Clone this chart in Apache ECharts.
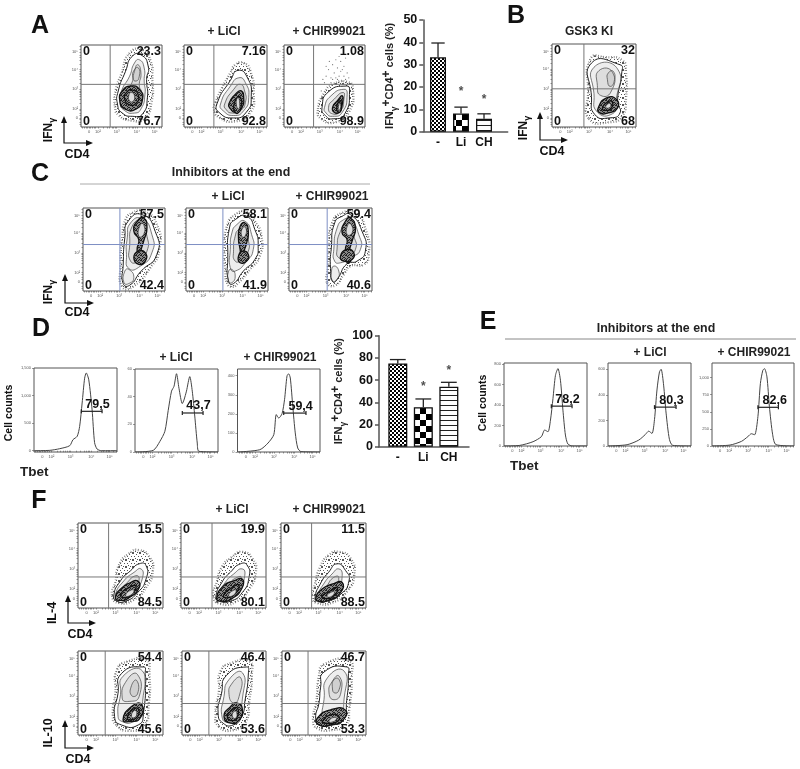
<!DOCTYPE html>
<html><head><meta charset="utf-8">
<style>html,body{margin:0;padding:0;background:#fff}#c{width:800px;height:769px;filter:blur(0.35px)}</style>
<script src="https://cdn.jsdelivr.net/npm/echarts@6/dist/echarts.min.js"></script>
</head><body><div id="c"></div>
<script>
// ---------- bar data ----------
const barCategories = ['-', 'Li', 'CH'];
const barAValues = [33.3, 8.2, 5.8];
const barAErrTop = [39.7, 11, 8];
const barAStars = [null, 19, 15.4];
const barDValues = [75, 35.5, 54];
const barDErrTop = [78.5, 43, 58];
const barDStars = [null, 55.5, 70.5];

// ---------- flow cytometry axis ticks (percent of plot box) ----------
const flowMajorX = [10, 21, 44, 69, 91];
const flowMajorY = [11, 22, 46, 70, 91];
const flowTickLabels = ['0', '10²', '10³', '10⁴', '10⁵'];
const flowMinorX = [2,4,6,8,10,12,14,16,18,21,28,32,35,38,40,42,44,51,56,60,63,65,67,69,76,81,84,87,89,91,96,99];
const flowMinorY = [3,6,9,11,14,17,20,22,29,34,37,40,42,44,46,53,58,62,64,66,68,70,77,82,85,88,91,95,98];

// ---------- quadrant gates [vertical, horizontal] and numbers ----------
const quadA1 = [36, 52], quadA2 = [36, 52], quadA3 = [36.5, 52];
const quadB = [38, 46];
const quadC1 = [45, 56], quadC2 = [45, 56], quadC3 = [46, 56];
const quadF1 = [36, 36.5], quadF2 = [36.5, 36.5], quadF3 = [36, 36.5];
const quadF4 = [32, 37.5], quadF5 = [32, 37.5], quadF6 = [31, 37.5];

const numA1 = ['0', '23.3', '0', '76.7'], numA2 = ['0', '7.16', '0', '92.8'], numA3 = ['0', '1.08', '0', '98.9'];
const numB = ['0', '32', '0', '68'];
const numC1 = ['0', '57.5', '0', '42.4'], numC2 = ['0', '58.1', '0', '41.9'], numC3 = ['0', '59.4', '0', '40.6'];
const numF1 = ['0', '15.5', '0', '84.5'], numF2 = ['0', '19.9', '0', '80.1'], numF3 = ['0', '11.5', '0', '88.5'];
const numF4 = ['0', '54.4', '0', '45.6'], numF5 = ['0', '46.4', '0', '53.6'], numF6 = ['0', '46.7', '0', '53.3'];

// ---------- contour outlines ----------
const haloA1 = [[42,25],[47,14],[62,8],[78,10],[87,30],[88,60],[86,80],[76,94],[60,90],[50,65],[43,45]];
const ringsA1 = [[[45,28],[51,17],[64,13],[76,16],[82,36],[81,58],[83,74],[74,88],[63,86],[55,68],[46,44]],
  [[48,30],[54,20],[66,17],[74,22],[79,40],[78,56],[78,72],[72,82],[66,78],[60,62],[50,44]],
  [[52,32],[58,23],[68,22],[73,30],[75,42],[72,50],[74,66],[70,76],[66,68],[62,52],[54,42]],
  [[64,60],[66,70],[71,72],[72,62],[68,56]]];
const darkA1 = [[[48,32],[54,22],[68,22],[76,34],[72,46],[62,50],[51,44]],[[54,34],[60,27],[68,29],[71,38],[64,45],[56,42]]];
const whiteA1 = [[[60,32],[64,31],[66,38],[62,42],[59,38]]];

const haloA2 = [[38,30],[46,48],[56,66],[62,76],[72,78],[80,68],[84,40],[80,18],[62,7],[42,12],[36,22]];
const ringsA2 = [[[40,29],[56,57],[65,69],[76,61],[81,37],[75,18],[60,11],[42,18]],
  [[44,28],[56,50],[66,60],[74,54],[78,36],[72,20],[60,14],[47,20]],
  [[49,28],[60,46],[68,52],[73,44],[74,30],[68,20],[58,17],[51,21]]];
const darkA2 = [[[54,28],[62,40],[69,44],[72,34],[70,24],[62,18],[56,22]],[[60,26],[64,36],[68,36],[69,26],[65,17],[61,19]]];
const whiteA2 = [[[63,28],[65,36],[67,30],[66,22]]];

const haloA3 = [[42,22],[50,42],[60,52],[78,55],[85,46],[80,18],[64,6],[46,10]];
const ringsA3 = [[[47,24],[55,43],[77,50],[81,45],[75,16],[61,10],[51,14]],
  [[50,24],[58,38],[74,46],[78,40],[72,18],[60,13],[52,17]],
  [[55,24],[62,34],[73,42],[74,34],[70,20],[60,16]]];
const darkA3 = [[[60,24],[66,32],[72,38],[72,28],[68,18],[62,18]],[[65,22],[69,32],[71,26],[69,18]]];
const whiteA3 = [[[67,23],[69,29],[70,25],[68,20]]];
const dotsA3 = [[48,58],[52,62],[55,70],[58,60],[60,76],[62,66],[64,82],[66,58],[66,72],[68,62],[70,80],[70,68],[72,56],[74,74],[74,62],[76,84],[76,58],[78,66],[52,74],[56,80],[60,58],[64,60],[68,86],[72,70],[80,60],[58,54],[50,54],[82,52],[46,44],[84,40]];

const haloB = [[44,10],[70,6],[84,14],[88,34],[88,66],[84,80],[64,84],[46,82],[43,40]];
const ringsB = [[[47,37],[47,77],[81,75],[83,65],[78,31],[81,17],[69,11],[51,15]],
  [[50,40],[50,72],[78,70],[76,30],[72,16],[54,18]],
  [[54,50],[56,68],[72,66],[70,42],[58,38]],
  [[66,57],[67,65],[73,67],[74,55],[69,49]]];
const darkB = [[[55,23],[65,35],[77,33],[78,23],[67,17],[57,17]],[[60,22],[66,30],[72,30],[70,22],[64,20]]];
const whiteB = [[[64,24],[67,28],[70,27],[68,23]]];

const haloC1 = [[60,94],[74,96],[90,80],[93,50],[82,28],[62,6],[48,5],[46,32],[48,66],[52,86]];
const ringsC1 = [[[55,84],[72,92],[88,72],[90,44],[70,23],[57,7],[49,9],[49,31],[51,64]],
  [[58,82],[72,87],[84,68],[84,46],[70,30],[56,27],[53,44],[54,64]],
  [[60,78],[70,84],[78,66],[78,48],[68,36],[58,36],[57,56]],
  [[50,10],[56,9],[62,16],[56,26],[51,24]]];
const darkC1 = [[[62,72],[66,84],[74,88],[78,76],[74,60],[70,44],[72,36],[68,34],[66,50],[68,62]],[[62,40],[68,48],[76,46],[76,36],[68,32]]];
const whiteC1 = [[[68,66],[70,80],[74,80],[74,68]]];

const haloC2 = [[50,10],[56,5],[64,10],[78,26],[90,42],[92,66],[84,84],[74,95],[60,92],[50,78],[47,50],[48,24]];
const ringsC2 = [[[53,76],[60,86],[74,90],[84,74],[88,54],[84,38],[70,24],[58,9],[52,11],[51,40]],
  [[56,70],[62,80],[72,84],[80,68],[82,50],[74,36],[60,24],[54,28],[54,50]],
  [[60,66],[64,74],[72,78],[76,62],[76,48],[68,38],[60,36],[58,50]],
  [[52,12],[56,10],[60,18],[56,26],[52,24]]];
const darkC2 = [[[64,64],[66,78],[72,82],[76,72],[74,58],[70,44],[72,38],[68,36],[66,50]],[[64,42],[70,48],[76,44],[74,36],[66,34]]];
const whiteC2 = [[[68,66],[69,76],[73,76],[72,66]]];

const haloC3 = [[46,10],[56,7],[66,20],[74,30],[90,32],[96,44],[93,72],[80,94],[64,94],[52,82],[48,52],[47,28]];
const ringsC3 = [[[51,52],[55,82],[64,90],[74,92],[88,72],[92,48],[82,36],[70,33],[58,14],[53,11],[50,27]],
  [[54,50],[58,76],[66,86],[74,86],[84,68],[86,50],[74,40],[62,34],[55,36]],
  [[58,52],[62,72],[70,80],[78,66],[80,50],[70,42],[60,40]],
  [[52,12],[58,14],[60,24],[54,30],[51,22]]];
const darkC3 = [[[64,70],[68,84],[74,88],[80,76],[76,60],[72,44],[74,36],[70,34],[68,50],[70,62]],[[62,42],[70,50],[78,46],[76,38],[66,36]]];
const whiteC3 = [[[70,68],[71,80],[75,80],[76,70]]];

const haloF1 = [[40,15],[44,30],[48,50],[60,64],[72,68],[84,60],[88,44],[80,24],[66,10],[48,6]];
const ringsF1 = [[[42,14],[50,32],[62,44],[72,52],[80,50],[80,34],[70,18],[56,8],[46,8]],
  [[44,16],[54,32],[66,42],[74,46],[76,36],[68,22],[56,12],[47,11]],
  [[48,17],[58,30],[68,38],[72,34],[66,24],[56,15]]];
const darkF1 = [[[44,13],[52,24],[62,30],[70,32],[72,24],[60,12],[48,9]],[[50,16],[60,24],[68,26],[64,17],[54,12]]];
const whiteF1 = [[[56,15],[62,21],[66,20],[60,14]]];

const haloF2 = [[38,14],[42,30],[48,48],[60,60],[72,66],[84,58],[88,42],[80,22],[66,8],[46,5]];
const ringsF2 = [[[41,13],[48,30],[58,42],[70,52],[78,50],[80,36],[72,18],[58,8],[45,8]],
  [[44,15],[52,30],[62,40],[72,46],[75,38],[68,22],[56,12],[47,11]],
  [[48,16],[56,28],[66,36],[71,36],[66,24],[56,15]]];
const darkF2 = [[[42,12],[50,26],[62,32],[72,34],[72,24],[60,11],[47,8]],[[50,15],[60,24],[68,27],[64,17],[54,12]]];
const whiteF2 = [[[56,15],[62,21],[65,20],[60,14]]];

const haloF3 = [[37,14],[40,28],[46,48],[56,62],[68,66],[82,58],[86,38],[78,20],[62,7],[42,6]];
const ringsF3 = [[[40,12],[46,28],[56,42],[66,52],[76,44],[80,32],[70,16],[54,8],[43,8]],
  [[43,14],[50,28],[60,40],[68,46],[72,38],[66,22],[52,12],[45,10]],
  [[47,15],[54,26],[62,36],[68,36],[62,22],[52,14]]];
const darkF3 = [[[41,12],[48,22],[60,28],[72,30],[70,18],[56,9],[44,8]],[[48,14],[58,20],[66,24],[62,14],[52,11]]];
const whiteF3 = [[[54,14],[60,19],[63,18],[58,13]]];

const haloF4 = [[45,12],[41,24],[44,50],[46,78],[60,88],[80,90],[84,72],[83,35],[78,12],[60,5]];
const ringsF4 = [[[51,12],[43,22],[47,49],[51,73],[77,81],[79,73],[77,26],[71,12]],
  [[52,16],[47,24],[50,48],[53,70],[76,76],[76,40],[72,24],[66,16]],
  [[52,44],[58,66],[70,72],[72,46],[60,40]],
  [[63,47],[63,59],[69,65],[70,49]]];
const darkF4 = [[[53,18],[63,34],[75,36],[73,20],[61,16]],[[58,20],[64,30],[71,31],[70,22],[62,18]]];
const whiteF4 = [[[63,22],[66,29],[69,27],[67,21]]];

const haloF5 = [[44,10],[40,26],[44,52],[46,76],[60,86],[80,88],[83,70],[80,40],[76,16],[62,6]];
const ringsF5 = [[[49,14],[43,26],[47,49],[53,71],[77,81],[79,73],[75,41],[71,22],[61,12]],
  [[48,20],[50,46],[56,66],[72,74],[72,44],[66,24],[56,16]],
  [[56,48],[60,62],[70,68],[68,46],[62,38]]];
const darkF5 = [[[50,22],[58,34],[66,38],[72,30],[68,18],[58,14]],[[54,22],[60,30],[66,32],[66,22],[60,17]]];
const whiteF5 = [[[60,22],[62,28],[65,27],[64,20]]];

const haloF6 = [[42,8],[37,18],[41,40],[44,70],[50,84],[80,88],[83,70],[80,30],[76,12],[60,6]];
const ringsF6 = [[[44,12],[40,20],[44,38],[46,57],[50,75],[77,81],[79,71],[77,41],[73,18],[61,12]],
  [[48,20],[50,42],[54,68],[74,76],[74,44],[68,22],[52,16]],
  [[56,50],[60,64],[68,70],[70,50],[62,42]],
  [[60,56],[62,66],[68,66],[68,54],[63,50]]];
const darkF6 = [[[42,20],[58,30],[75,30],[73,18],[58,12],[44,12]],[[48,16],[58,24],[68,22],[64,15],[52,14]]];
const whiteF6 = [[[56,17],[62,21],[65,19],[58,15]]];

// ---------- histograms: x in percent of the plot width, y in cell counts ----------
const histD1 = [[0,0],[19,6],[31,36],[43,90],[47,200],[52,260],[55,440],[58,865],[61,1315],[63,1410],[66,1285],[70,740],[73,145],[76,30],[81,0],[100,0]];
const histD2 = [[0,0],[22,1.2],[30,7.7],[36,15],[40,30],[44,44],[47,47.5],[50,56.6],[53,46],[57,35],[59,37.6],[62,44],[66,54.5],[69,44],[72,26],[75,6.5],[77,0.5],[100,0]];
const histD3 = [[0,0],[27,12],[37,47],[44,91],[47,196],[50,178],[54,201],[57,274],[60,398],[62,410],[64,388],[67,239],[70,100],[73,21],[77,2],[100,0]];
const histE1 = [[0,0],[19,6],[35,42],[45,91],[49,156],[53,139],[56,253],[59,463],[62,690],[65,755],[68,642],[71,350],[74,107],[77,19],[83,0],[100,0]];
const histE2 = [[0,0],[23,10],[37,46],[45,90],[49,116],[53,98],[56,206],[59,438],[62,579],[64,600],[67,476],[70,257],[74,52],[78,5],[100,0]];
const histE3 = [[0,0],[22,14],[36,68],[44,140],[48,179],[52,164],[56,430],[59,912],[62,1105],[64,1130],[67,1010],[70,575],[74,164],[78,20],[100,0]];
const ticksD1 = [0, 500, 1000, 1500], ticksD2 = [0, 20, 40, 60], ticksD3 = [0, 100, 200, 300, 400];
const ticksE1 = [0, 200, 400, 600, 800], ticksE2 = [0, 200, 400, 600], ticksE3 = [0, 250, 500, 750, 1000];
const gateD1 = [57, 82, 714], gateD2 = [57, 82, 28.2], gateD3 = [56, 83, 204];
const gateE1 = [57, 82, 389], gateE2 = [56, 82, 304], gateE3 = [56, 81, 565];
const pctD1 = '79,5', pctD2 = '43,7', pctD3 = '59,4', pctE1 = '78,2', pctE2 = '80,3', pctE3 = '82,6';

// ---------- layout ----------
const FONT = '"Liberation Sans", Arial, sans-serif';
const flowPanels = [
  [81,45,162,127,quadA1,numA1,haloA1,ringsA1,darkA1,whiteA1,'#777'],
  [184,45,267,127,quadA2,numA2,haloA2,ringsA2,darkA2,whiteA2,'#777'],
  [284,45,365,127,quadA3,numA3,haloA3,ringsA3,darkA3,whiteA3,'#777',dotsA3],
  [552,44,636,127,quadB,numB,haloB,ringsB,darkB,whiteB,'#777'],
  [83,208,165,291,quadC1,numC1,haloC1,ringsC1,darkC1,whiteC1,'#7d8fc4'],
  [186,208,268,291,quadC2,numC2,haloC2,ringsC2,darkC2,whiteC2,'#7d8fc4'],
  [289,208,372,291,quadC3,numC3,haloC3,ringsC3,darkC3,whiteC3,'#7d8fc4'],
  [78,523,163,608,quadF1,numF1,haloF1,ringsF1,darkF1,whiteF1,'#777'],
  [181,523,266,608,quadF2,numF2,haloF2,ringsF2,darkF2,whiteF2,'#777'],
  [281,523,366,608,quadF3,numF3,haloF3,ringsF3,darkF3,whiteF3,'#777'],
  [78,651,163,735,quadF4,numF4,haloF4,ringsF4,darkF4,whiteF4,'#777'],
  [182,651,266,735,quadF5,numF5,haloF5,ringsF5,darkF5,whiteF5,'#777'],
  [282,651,366,735,quadF6,numF6,haloF6,ringsF6,darkF6,whiteF6,'#777']
];
const histPanels = [
  [34,368,117,452,histD1,ticksD1,gateD1,pctD1,-24,1500],
  [135,369,218,452,histD2,ticksD2,gateD2,pctD2,0,60],
  [237.5,369,320,452,histD3,ticksD3,gateD3,pctD3,0,435],
  [504,363,587,446,histE1,ticksE1,gateE1,pctE1,0,810],
  [608,363,691,446,histE2,ticksE2,gateE2,pctE2,0,649],
  [712,363,794,446,histE3,ticksE3,gateE3,pctE3,0,1212]
];

// speckle tiles used as fill texture for the dot halo and the dense contour zones
const speckleDots = [[0,0],[3,1],[6,0],[1,3],[5,3],[2,5],[6,6],[4,6],[0,6]];
const denseDots = [[0,0],[1,0],[2,1],[3,2],[4,2],[0,3],[1,4],[4,4],[3,0],[2,3]];
function tile(size, dots, bg, fg) {
  const c = document.createElement('canvas'); c.width = c.height = size;
  const ctx = c.getContext('2d');
  if (bg) { ctx.fillStyle = bg; ctx.fillRect(0,0,size,size); }
  ctx.fillStyle = fg;
  dots.forEach(d => ctx.fillRect(d[0], d[1], 1, 1));
  return {image:c, repeat:'repeat'};
}
const speckleFill = tile(7, speckleDots, null, '#555');
const denseFill = tile(5, denseDots, '#888', '#222');

const grids = [], xAxes = [], yAxes = [], series = [], graphics = [];
function addGrid(x0, y0, x1, y1, extra) {
  grids.push(Object.assign({left:x0, top:y0, width:x1-x0, height:y1-y0, containLabel:false, show:true, borderColor:'#555', borderWidth:1, backgroundColor:'transparent'}, extra||{}));
  return grids.length - 1;
}
const tinyLabel = {fontSize:4, color:'#555', fontFamily:FONT, margin:3};
function flowAxisX(g) {
  xAxes.push({gridIndex:g, type:'value', min:0, max:100, splitLine:{show:false}, axisLine:{show:false},
    axisTick:{show:true, length:1.5, inside:false, lineStyle:{color:'#555', width:0.6}, customValues:flowMinorX},
    axisLabel:Object.assign({show:true, customValues:flowMajorX, formatter:v=>flowTickLabels[flowMajorX.indexOf(v)]}, tinyLabel)});
}
function flowAxisY(g) {
  yAxes.push({gridIndex:g, type:'value', min:0, max:100, splitLine:{show:false}, axisLine:{show:false},
    axisTick:{show:true, length:1.5, lineStyle:{color:'#555', width:0.6}, customValues:flowMinorY},
    axisLabel:Object.assign({show:true, customValues:flowMajorY, formatter:v=>flowTickLabels[flowMajorY.indexOf(v)]}, tinyLabel)});
}
function ringSeries(g, rings, style, smooth) {
  series.push({type:'custom', coordinateSystem:'cartesian2d', xAxisIndex:g, yAxisIndex:g, silent:true, clip:true,
    data:rings.map(()=>[0,0]),
    renderItem:(p, api)=>({type:'polygon', shape:{points:rings[p.dataIndex].map(c=>api.coord(c)), smooth:smooth}, style:style})});
}
function txt(s, x, y, o) {
  const opt = o||{};
  graphics.push({type:'text', x:x, y:y, rotation:opt.rot||0, z:50, silent:true, style:Object.assign({
    text:s, fontFamily:FONT, fontSize:opt.size||12, fontWeight:opt.weight||'bold', fill:opt.fill||'#111',
    align:opt.align||'center', verticalAlign:'middle'}, opt.rich?{rich:opt.rich}:{})});
}
function arrow(cx, cy, top, right) {
  const st = {stroke:'#111', lineWidth:1.2};
  graphics.push({type:'polyline', z:50, silent:true, shape:{points:[[cx,top+4],[cx,cy],[right-4,cy]]}, style:Object.assign({fill:'none'},st)});
  graphics.push({type:'polygon', z:50, silent:true, shape:{points:[[cx,top],[cx-3,top+7],[cx+3,top+7]]}, style:{fill:'#111'}});
  graphics.push({type:'polygon', z:50, silent:true, shape:{points:[[right,cy],[right-7,cy-3],[right-7,cy+3]]}, style:{fill:'#111'}});
}

flowPanels.forEach(pn=>{
  const [x0,y0,x1,y1,q,nums,halo,rings,dark,white,qc,dots] = pn;
  const g = addGrid(x0,y0,x1,y1);
  flowAxisX(g); flowAxisY(g);
  ringSeries(g,[halo],{fill:speckleFill,stroke:'#777',lineWidth:2.4,lineDash:[0.8,1.8]},0.6);
  ringSeries(g,[rings[0]],{fill:'#fff',stroke:'#222',lineWidth:1},0.6);
  ringSeries(g,rings.slice(1),{fill:'rgba(90,90,90,0.1)',stroke:'#444',lineWidth:0.7},0.6);
  ringSeries(g,dark,{fill:denseFill,stroke:'#111',lineWidth:1.3},0.6);
  ringSeries(g,white,{fill:'#ddd',stroke:'#222',lineWidth:0.6},0.6);
  if (dots) series.push({type:'scatter',xAxisIndex:g,yAxisIndex:g,silent:true,symbolSize:1.2,itemStyle:{color:'#555'},data:dots});
  series.push({type:'line',xAxisIndex:g,yAxisIndex:g,silent:true,symbol:'none',lineStyle:{color:qc,width:1},data:[[q[0],0],[q[0],100]],z:5});
  series.push({type:'line',xAxisIndex:g,yAxisIndex:g,silent:true,symbol:'none',lineStyle:{color:qc,width:1},data:[[0,q[1]],[100,q[1]]],z:5});
  txt(nums[0], x0+2, y0+7, {align:'left', size:12.5});
  txt(nums[1], x1-1, y0+7, {align:'right', size:12.5});
  txt(nums[2], x0+2, y1-5, {align:'left', size:12.5});
  txt(nums[3], x1-1, y1-5, {align:'right', size:12.5});
});

histPanels.forEach(pn=>{
  const [x0,y0,x1,y1,h,ticks,gate,pct,mn,mx] = pn;
  const g = addGrid(x0,y0,x1,y1);
  flowAxisX(g);
  yAxes.push({gridIndex:g,type:'value',min:mn,max:mx,splitLine:{show:false},axisLine:{show:false},
    axisTick:{show:true,length:2,lineStyle:{color:'#555',width:0.6},customValues:ticks},
    axisLabel:Object.assign({show:true,customValues:ticks},tinyLabel)});
  series.push({type:'line',xAxisIndex:g,yAxisIndex:g,silent:true,symbol:'none',smooth:0.25,lineStyle:{color:'#444',width:1},data:h});
  series.push({type:'custom',coordinateSystem:'cartesian2d',xAxisIndex:g,yAxisIndex:g,silent:true,data:[gate],z:6,
    renderItem:(p,api)=>{
      const a=api.coord([gate[0],gate[2]]), b=api.coord([gate[1],gate[2]]);
      const st={stroke:'#222',lineWidth:1.2};
      return {type:'group',children:[
        {type:'line',shape:{x1:a[0],y1:a[1],x2:b[0],y2:b[1]},style:st},
        {type:'line',shape:{x1:a[0],y1:a[1]-2,x2:a[0],y2:a[1]+2},style:st},
        {type:'line',shape:{x1:b[0],y1:b[1]-2,x2:b[0],y2:b[1]+2},style:st}]};
    }});
  txt(pct, x0+(x1-x0)*0.765, y0+(y1-y0)*(1-(gate[2]-mn)/(mx-mn))-7, {size:12.5});
});

function patternCanvas(kind) {
  const c = document.createElement('canvas'); const ctx = c.getContext('2d');
  if (kind==='fine'||kind==='coarse') {
    const s = kind==='fine'?2:6;
    c.width=c.height=s*2; ctx.fillStyle='#fff'; ctx.fillRect(0,0,s*2,s*2); ctx.fillStyle='#000';
    ctx.fillRect(0,0,s,s); ctx.fillRect(s,s,s,s);
  } else {
    c.width=4; c.height=5; ctx.fillStyle='#fff'; ctx.fillRect(0,0,4,5); ctx.fillStyle='#222'; ctx.fillRect(0,0,4,1);
  }
  return c;
}
const patterns = ['fine','coarse','lines'].map(k=>({image:patternCanvas(k),repeat:'repeat'}));
const barYName = {
  a:{fontSize:11,fontWeight:'bold',fontFamily:FONT,color:'#222',lineHeight:19},
  s:{fontSize:8.5,fontWeight:'bold',fontFamily:FONT,color:'#222',lineHeight:9,verticalAlign:'bottom'},
  p:{fontSize:12,fontWeight:'bold',fontFamily:FONT,color:'#222',lineHeight:12,verticalAlign:'top'}
};
function barPanel(x0,y0,x1,y1,vals,errs,stars,xMin,xMax,yMax,step,bw,nameGap) {
  const g = addGrid(x0,y0,x1,y1,{show:false});
  xAxes.push({gridIndex:g,type:'value',min:xMin,max:xMax,splitLine:{show:false},
    axisLine:{show:true,lineStyle:{color:'#555',width:1.5}},axisTick:{show:false},
    axisLabel:{show:true,customValues:[1,2,3],formatter:v=>barCategories[v-1],fontSize:12,fontWeight:'bold',color:'#111',fontFamily:FONT,margin:5}});
  yAxes.push({gridIndex:g,type:'value',min:0,max:yMax,interval:step,splitLine:{show:false},
    name:'{a|IFN}{s|γ}{p|+}{a|CD4}{p|+}{a| cells (%)}',nameLocation:'middle',nameRotate:90,nameGap:nameGap,
    nameTextStyle:{rich:barYName},
    axisLine:{show:true,lineStyle:{color:'#555',width:1.5}},axisTick:{show:true,length:4,lineStyle:{color:'#555',width:1.5}},
    axisLabel:{fontSize:12.5,fontWeight:'bold',color:'#111',fontFamily:FONT,margin:6}});
  series.push({type:'custom',coordinateSystem:'cartesian2d',xAxisIndex:g,yAxisIndex:g,silent:true,z:1,
    data:errs.map((e,i)=>[i+1,e,vals[i]]),
    renderItem:(p,api)=>{
      const t=api.coord([api.value(0),api.value(1)]), b=api.coord([api.value(0),api.value(2)]);
      const st={stroke:'#222',lineWidth:1.3};
      return {type:'group',children:[
        {type:'line',shape:{x1:t[0],y1:t[1],x2:b[0],y2:b[1]},style:st},
        {type:'line',shape:{x1:t[0]-bw/2.4,y1:t[1],x2:t[0]+bw/2.4,y2:t[1]},style:st}]};
    }});
  series.push({type:'bar',xAxisIndex:g,yAxisIndex:g,silent:true,barWidth:bw,z:3,
    data:vals.map((v,i)=>({value:[i+1,v],itemStyle:{color:patterns[i],borderColor:'#111',borderWidth:1.3}}))});
  series.push({type:'scatter',xAxisIndex:g,yAxisIndex:g,silent:true,symbolSize:0,
    data:stars.map((s,i)=>s==null?null:[i+1,s]).filter(Boolean),
    label:{show:true,formatter:'*',position:'inside',fontSize:12,fontWeight:'bold',color:'#222',fontFamily:FONT,offset:[0,2]}});
}
barPanel(423.3,20,507.7,131.7,barAValues,barAErrTop,barAStars,0.36,4.03,50,10,16,24);
barPanel(379,335.7,469,446.7,barDValues,barDErrTop,barDStars,0.263,3.79,100,20,19,25);

// ---------- text ----------
[['A',40,26],['B',516,16],['C',40,174],['D',41,329],['E',488,322],['F',39,501]].forEach(l=>txt(l[0],l[1],l[2],{size:25}));
[['+ LiCl',224,32],['+ CHIR99021',329,32],['GSK3 KI',589,32],['+ LiCl',228,197],['+ CHIR99021',332,197],
 ['+ LiCl',176,358],['+ CHIR99021',280,358],['+ LiCl',650,353],['+ CHIR99021',754,353],['+ LiCl',232,510],['+ CHIR99021',329,510]].forEach(l=>txt(l[0],l[1],l[2],{size:12,fill:'#222'}));
[['Inhibitors at the end',231,173],['Inhibitors at the end',656,329]].forEach(l=>txt(l[0],l[1],l[2],{size:12.4,fill:'#222'}));
graphics.push({type:'line',silent:true,shape:{x1:80,y1:184,x2:370,y2:184},style:{stroke:'#aaa',lineWidth:1}});
graphics.push({type:'line',silent:true,shape:{x1:505,y1:339,x2:796,y2:339},style:{stroke:'#888',lineWidth:1}});
const ifnRich = {a:{fontSize:12,fontWeight:'bold',fontFamily:FONT,color:'#111',lineHeight:17},s:{fontSize:9,fontWeight:'bold',fontFamily:FONT,color:'#111',lineHeight:9,verticalAlign:'bottom'}};
[[49,130],[524,128],[49,292]].forEach(p=>txt('{a|IFN}{s|γ}',p[0],p[1],{rot:Math.PI/2,rich:ifnRich}));
[[77,155],[552,152],[77,313],[80,635],[78,760]].forEach(p=>txt('CD4',p[0],p[1],{size:12.5}));
txt('IL-4',53,613,{rot:Math.PI/2,size:12.5}); txt('IL-10',49,733,{rot:Math.PI/2,size:12.5});
txt('Cell counts',9,413,{rot:Math.PI/2,size:10.5}); txt('Cell counts',483,403,{rot:Math.PI/2,size:10.5});
txt('Tbet',20,472,{align:'left',size:13.5,fill:'#222'}); txt('Tbet',510,466,{align:'left',size:13.5,fill:'#222'});
arrow(64,143,116,93); arrow(540,140,112,568); arrow(65,303,274,94); arrow(68,623,595,96); arrow(65,748,720,94);

echarts.init(document.getElementById('c'),null,{renderer:'canvas'}).setOption({
  animation:false, backgroundColor:'#fff', grid:grids, xAxis:xAxes, yAxis:yAxes, series:series, graphic:{elements:graphics}
});
</script></body></html>
